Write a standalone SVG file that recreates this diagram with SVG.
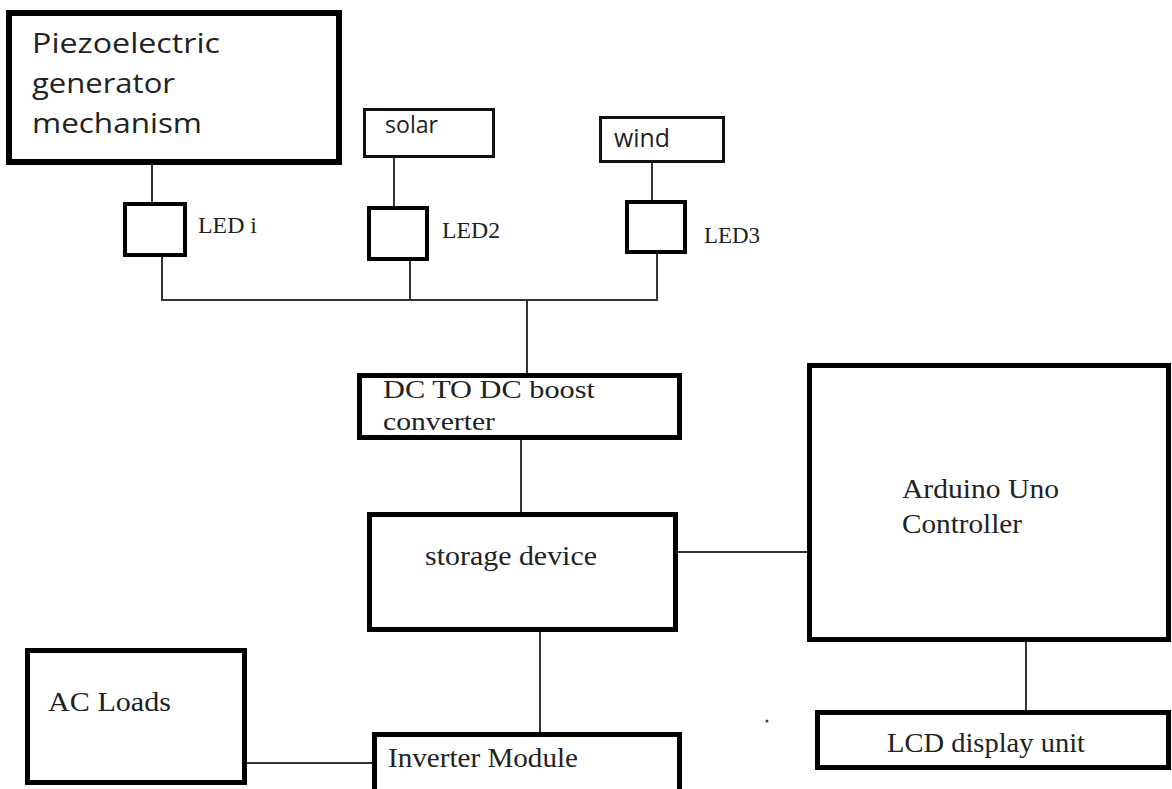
<svg xmlns="http://www.w3.org/2000/svg" width="1172" height="789" viewBox="0 0 1172 789">
<style>
.box{fill:#fff;stroke:#000;stroke-width:5}
.thin{fill:#fff;stroke:#111;stroke-width:3}
.led{fill:#fff;stroke:#000;stroke-width:4}
.con{fill:none;stroke:#333;stroke-width:2}
.sans{font-family:"Open Sans","Liberation Sans",sans-serif;fill:#222}
.serif{font-family:"Liberation Serif","DejaVu Serif",serif;fill:#222}
</style>
<rect width="1172" height="789" fill="#fff"/>
<g id="connectors">
<line class="con" x1="152" y1="165" x2="152" y2="203"/>
<line class="con" x1="394" y1="158" x2="394" y2="207"/>
<line class="con" x1="652" y1="163" x2="652" y2="201"/>
<polyline class="con" points="162,256 162,300 657,300 657,253"/>
<line class="con" x1="410" y1="260" x2="410" y2="300"/>
<line class="con" x1="527" y1="300" x2="527" y2="374"/>
<line class="con" x1="521" y1="439" x2="521" y2="513"/>
<line class="con" x1="677" y1="552" x2="808" y2="552"/>
<line class="con" x1="1026" y1="641" x2="1026" y2="711"/>
<line class="con" x1="540" y1="631" x2="540" y2="733"/>
<line class="con" x1="246" y1="763" x2="373" y2="763"/>
</g>
<g id="piezo">
<rect x="9" y="13" width="330" height="149" fill="#fff" stroke="#000" stroke-width="6"/>
<text class="sans" x="32" y="53" font-size="28" textLength="188" lengthAdjust="spacingAndGlyphs">Piezoelectric</text>
<text class="sans" x="32" y="93" font-size="28" textLength="143" lengthAdjust="spacingAndGlyphs">generator</text>
<text class="sans" x="32" y="133" font-size="28" textLength="170" lengthAdjust="spacingAndGlyphs">mechanism</text>
</g>
<g id="solar">
<rect class="thin" x="364.5" y="109.5" width="129" height="47"/>
<text class="sans" x="385" y="133" font-size="24" textLength="53" lengthAdjust="spacingAndGlyphs">solar</text>
</g>
<g id="wind">
<rect class="thin" x="600.5" y="117.5" width="123" height="44"/>
<text class="sans" x="614" y="147" font-size="26" textLength="56" lengthAdjust="spacingAndGlyphs">wind</text>
</g>
<g id="led1">
<rect class="led" x="125" y="204" width="60" height="51"/>
<text class="serif" x="198" y="233" font-size="23" textLength="59" lengthAdjust="spacingAndGlyphs">LED i</text>
</g>
<g id="led2">
<rect class="led" x="369" y="208" width="58" height="51"/>
<text class="serif" x="442" y="238" font-size="23" textLength="58" lengthAdjust="spacingAndGlyphs">LED2</text>
</g>
<g id="led3">
<rect class="led" x="627" y="202" width="58" height="50"/>
<text class="serif" x="704" y="243" font-size="23" textLength="56" lengthAdjust="spacingAndGlyphs">LED3</text>
</g>
<g id="dcdc">
<rect class="box" x="359.5" y="375.5" width="320" height="62"/>
<text class="serif" x="383" y="398" font-size="26" textLength="212" lengthAdjust="spacingAndGlyphs">DC TO DC boost</text>
<text class="serif" x="383" y="430" font-size="26" textLength="112" lengthAdjust="spacingAndGlyphs">converter</text>
</g>
<g id="storage">
<rect class="box" x="369.5" y="514.5" width="306" height="115"/>
<text class="serif" x="425" y="565" font-size="27" textLength="172" lengthAdjust="spacingAndGlyphs">storage device</text>
</g>
<g id="arduino">
<rect class="box" x="809.5" y="365.5" width="359" height="274"/>
<text class="serif" x="902" y="498" font-size="27" textLength="157" lengthAdjust="spacingAndGlyphs">Arduino Uno</text>
<text class="serif" x="902" y="533" font-size="27" textLength="120" lengthAdjust="spacingAndGlyphs">Controller</text>
</g>
<g id="lcd">
<rect class="box" x="817.5" y="712.5" width="351" height="55"/>
<text class="serif" x="887" y="752" font-size="27" textLength="198" lengthAdjust="spacingAndGlyphs">LCD display unit</text>
</g>
<g id="acloads">
<rect class="box" x="27.5" y="650.5" width="217" height="132"/>
<text class="serif" x="48" y="711" font-size="27" textLength="123" lengthAdjust="spacingAndGlyphs">AC Loads</text>
</g>
<g id="inverter">
<rect class="box" x="374.5" y="734.5" width="305" height="62"/>
<text class="serif" x="388" y="767" font-size="27" textLength="190" lengthAdjust="spacingAndGlyphs">Inverter Module</text>
</g>
<circle cx="767" cy="721" r="1.5" fill="#444"/>
</svg>
